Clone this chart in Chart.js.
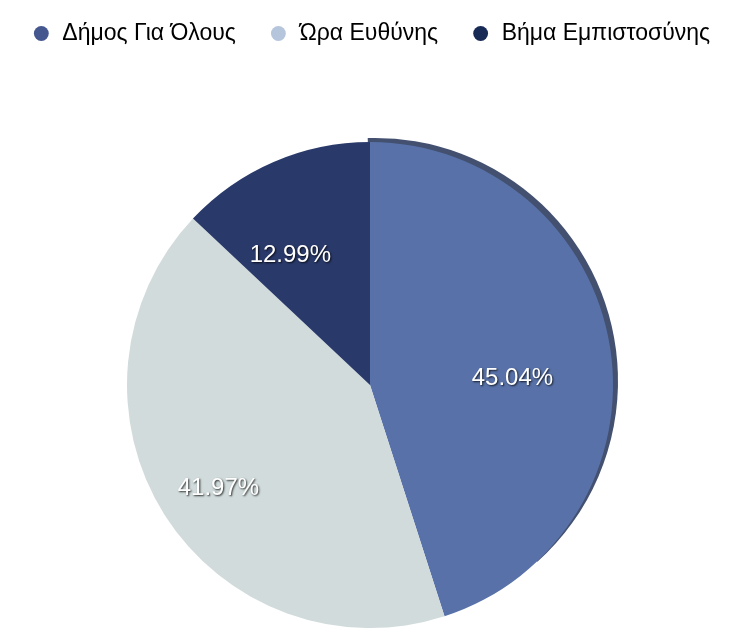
<!DOCTYPE html>
<html>
<head>
<meta charset="utf-8">
<script src="https://cdn.jsdelivr.net/npm/chart.js@4.4.1/dist/chart.umd.min.js"></script>
<style>
  html, body { margin: 0; padding: 0; background: #ffffff; }
  #wrap { width: 730px; height: 643px; }
</style>
</head>
<body>
<div id="wrap"><canvas id="c" width="730" height="643"></canvas></div>
<script>
const categories = ['Δήμος Για Όλους', 'Ώρα Ευθύνης', 'Βήμα Εμπιστοσύνης'];
const shares = [45.04, 41.97, 12.99];
const sliceColors = ['#5872a9', '#d1dbdb', '#29396a'];
const legendColors = ['#44578f', '#b5c5dc', '#172a55'];

const FONT = '"Liberation Sans", Arial, Helvetica, sans-serif';

// keep the legend on one row and reserve the gap above the pie
const legendSpace = {
  id: 'legendSpace',
  beforeInit(chart) {
    const lg = chart.legend;
    const origFit = lg.fit;
    lg.fit = function () {
      const mw = this.maxWidth;
      this.maxWidth = mw + 60;
      origFit.call(this);
      this.maxWidth = mw;
      this.width = mw;
      this.height = 153;
    };
    const origDraw = lg.draw;
    lg.draw = function () {
      this.left -= 20; this.right += 22;
      origDraw.call(this);
      this.left += 20; this.right -= 22;
    };
  }
};

const rimShadow = {
  id: 'rimShadow',
  beforeDatasetsDraw(chart) {
    const arc = chart.getDatasetMeta(0).data[0];
    if (!arc) return;
    const { x, y, outerRadius, startAngle, endAngle } = arc.getProps(['x', 'y', 'outerRadius', 'startAngle', 'endAngle'], true);
    const ctx = chart.ctx;
    ctx.save();
    ctx.beginPath();
    ctx.moveTo(x + 5, y - 4);
    ctx.arc(x + 5, y - 4, outerRadius, startAngle - 0.03, endAngle - 0.42);
    ctx.closePath();
    ctx.fillStyle = '#43506f';
    ctx.fill();
    ctx.restore();
  }
};

const pctLabels = {
  id: 'pctLabels',
  afterDatasetsDraw(chart) {
    const ctx = chart.ctx;
    const meta = chart.getDatasetMeta(0);
    ctx.save();
    ctx.font = '24px ' + FONT;
    ctx.textAlign = 'center';
    ctx.textBaseline = 'middle';
    ctx.fillStyle = '#ffffff';
    ctx.shadowColor = 'rgba(0,0,0,0.8)';
    ctx.shadowBlur = 2;
    ctx.shadowOffsetX = 1;
    ctx.shadowOffsetY = 1;
    meta.data.forEach((arc, i) => {
      const p = arc.getProps(['x', 'y', 'outerRadius', 'startAngle', 'endAngle'], true);
      const mid = (p.startAngle + p.endAngle) / 2;
      const r = p.outerRadius * 0.66;
      ctx.fillText(shares[i].toFixed(2) + '%', p.x - 16 + Math.cos(mid) * r, p.y + 18 + Math.sin(mid) * r);
    });
    ctx.restore();
  }
};

new Chart(document.getElementById('c'), {
  type: 'pie',
  data: {
    labels: categories,
    datasets: [{
      data: shares,
      backgroundColor: sliceColors,
      borderWidth: 0
    }]
  },
  options: {
    responsive: false,
    animation: false,
    layout: { padding: { top: -11, bottom: 15, left: 10, right: 0 } },
    plugins: {
      tooltip: { enabled: false },
      legend: {
        position: 'top',
        labels: {
          usePointStyle: true,
          pointStyle: 'circle',
          boxWidth: 19,
          boxHeight: 10.5,
          padding: 33,
          color: '#000000',
          font: { family: FONT, size: 23 },
          generateLabels(chart) {
            return categories.map((name, i) => ({
              text: name,
              fillStyle: legendColors[i],
              strokeStyle: legendColors[i],
              lineWidth: 0,
              pointStyle: 'circle',
              hidden: false,
              index: i,
              datasetIndex: 0
            }));
          }
        }
      }
    }
  },
  plugins: [legendSpace, rimShadow, pctLabels]
});
</script>
</body>
</html>
